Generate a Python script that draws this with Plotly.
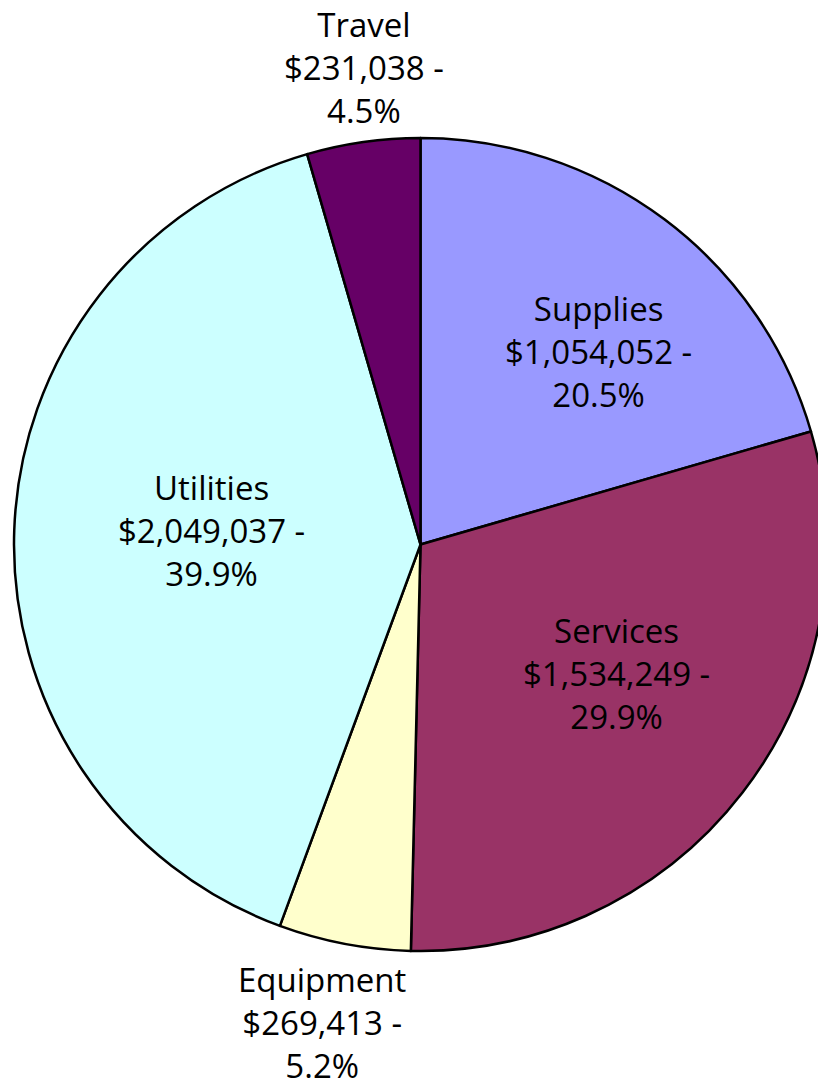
import plotly.graph_objects as go

# Expense categories, clockwise from 12 o'clock
categories = ["Supplies", "Services", "Equipment", "Utilities", "Travel"]
amounts = [1054052, 1534249, 269413, 2049037, 231038]
slice_colors = ["#9999FF", "#993366", "#FFFFCC", "#CCFFFF", "#660066"]

# Label anchor points (pixels from top-left of the page)
label_xy = {
    "Supplies": (598, 352),
    "Services": (616, 673),
    "Equipment": (322, 1022),
    "Utilities": (211, 530),
    "Travel": (364, 67),
}

W, H = 840, 1085
cx, cy, R = 420.5, 544.5, 406.5

total = sum(amounts)

fig = go.Figure(
    go.Pie(
        labels=categories,
        values=amounts,
        sort=False,
        direction="clockwise",
        rotation=0,
        marker=dict(colors=slice_colors, line=dict(color="black", width=2.5)),
        textinfo="none",
        hoverinfo="label+value+percent",
        showlegend=False,
        domain=dict(
            x=[(cx - R) / W, (cx + R) / W],
            y=[1 - (cy + R) / H, 1 - (cy - R) / H],
        ),
    )
)

for name, val in zip(categories, amounts):
    x, y = label_xy[name]
    fig.add_annotation(
        x=x / W,
        y=1 - y / H,
        xref="paper",
        yref="paper",
        xanchor="center",
        yanchor="middle",
        align="center",
        showarrow=False,
        text=f"{name}<br>${val:,} -<br>{val / total * 100:.1f}%",
        font=dict(family="Open Sans", size=33, color="black"),
    )

fig.update_layout(
    width=W,
    height=H,
    margin=dict(l=0, r=0, t=0, b=0),
    paper_bgcolor="white",
    plot_bgcolor="white",
)

fig.write_html(
    "out.html",
    post_script="document.documentElement.style.overflow='hidden';document.body.style.overflow='hidden';",
)
